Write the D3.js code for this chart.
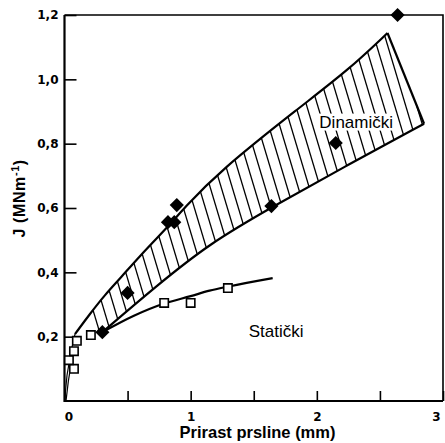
<!DOCTYPE html>
<html>
<head>
<meta charset="utf-8">
<script src="https://cdn.jsdelivr.net/npm/d3@7/dist/d3.min.js"></script>
<style>
  body { margin: 0; background: #fff; }
  svg { display: block; }
</style>
</head>
<body>
<div id="chart"></div>
<script>
// dynamic test points (filled diamonds)
const dynamicX = [0.30, 0.50, 0.82, 0.87, 0.89, 1.64, 2.15, 2.64];
const dynamicY = [0.214, 0.336, 0.556, 0.556, 0.609, 0.606, 0.802, 1.20];

// static test points (open squares)
const staticX = [0.075, 0.035, 0.075, 0.098, 0.209, 0.79, 1.00, 1.295];
const staticY = [0.100, 0.127, 0.155, 0.187, 0.205, 0.305, 0.305, 0.351];

// fitted static curve
const staticCurveX = [0.30, 0.55, 0.79, 1.00, 1.15, 1.30, 1.65];
const staticCurveY = [0.214, 0.265, 0.303, 0.326, 0.343, 0.356, 0.382];

// dynamic scatter band, upper and lower edge
const bandUpperX = [0.083, 0.20, 0.32, 0.45, 0.59, 0.81, 0.95, 1.22, 1.87, 2.25, 2.56];
const bandUpperY = [0.208, 0.270, 0.330, 0.385, 0.448, 0.538, 0.600, 0.712, 0.915, 1.029, 1.144];
const bandLowerX = [0.30, 0.72, 1.15, 1.65, 2.25, 2.85];
const bandLowerY = [0.214, 0.355, 0.490, 0.604, 0.735, 0.862];

// thin strokes of the band near the origin
const tailAX = [0.0, 0.02, 0.05, 0.083];
const tailAY = [0.0, 0.08, 0.15, 0.208];
const tailBX = [0.012, 0.03, 0.05];
const tailBY = [0.0, 0.06, 0.11];

// axes
const xTicks = [0, 0.5, 1, 1.5, 2, 2.5, 3];
const xTickLabels = ['0', '', '1', '', '2', '', '3'];
const yTicks = [0.2, 0.4, 0.6, 0.8, 1.0, 1.2];
const yTickLabels = ['0,2', '0,4', '0,6', '0,8', '1,0', '1,2'];

const w = 445;
const h = 443;
const margin = { top: 15, right: 2, bottom: 42, left: 64.5 };

const svg = d3.select('#chart')
    .append('svg')
    .attr('width', w)
    .attr('height', h);

const x = d3.scaleLinear().domain([0, 3]).range([margin.left, w - margin.right]);
const y = d3.scaleLinear().domain([0, 1.2]).range([h - margin.bottom, margin.top]);

const tickFont = '"DejaVu Sans", sans-serif';
const textFont = '"Liberation Sans", Arial, sans-serif';

// y axis, ticks pointing inwards
const yAxisG = svg.append('g')
    .attr('transform', `translate(${x(0)},0)`)
    .call(d3.axisLeft(y)
        .tickValues(yTicks)
        .tickSize(-12)
        .tickPadding(6)
        .tickFormat((d, i) => yTickLabels[i]));
yAxisG.select('.domain').remove();
yAxisG.selectAll('line').attr('stroke', '#000').attr('stroke-width', 1.6);
yAxisG.selectAll('text')
    .attr('fill', '#000')
    .style('font-family', tickFont)
    .style('font-weight', 'bold')
    .style('font-size', '12px');

// x axis
const xAxisG = svg.append('g')
    .attr('transform', `translate(0,${y(0)})`)
    .call(d3.axisBottom(x)
        .tickValues(xTicks)
        .tickSize(-10)
        .tickPadding(11)
        .tickFormat((d, i) => xTickLabels[i]));
xAxisG.select('.domain').remove();
xAxisG.selectAll('line').attr('stroke', '#000').attr('stroke-width', 1.6);
xAxisG.selectAll('text')
    .attr('fill', '#000')
    .attr('dx', (d, i) => i === 0 ? 4 : (i === xTicks.length - 1 ? -7 : 0))
    .style('font-family', tickFont)
    .style('font-weight', 'bold')
    .style('font-size', '12px');

// frame
svg.append('path')
    .attr('d', `M${x(0)},${y(1.2)}V${y(0)}H${x(3)}`)
    .attr('fill', 'none').attr('stroke', '#000').attr('stroke-width', 2.2);
svg.append('path')
    .attr('d', `M${x(0)},${y(1.2)}H${x(3)}V${y(0)}`)
    .attr('fill', 'none').attr('stroke', '#000').attr('stroke-width', 1.6);

// band
const smooth = d3.line().x(d => x(d[0])).y(d => y(d[1])).curve(d3.curveBasis);
const upper = bandUpperX.map((v, i) => [v, bandUpperY[i]]);
const lower = bandLowerX.map((v, i) => [v, bandLowerY[i]]);
const bandPath = smooth(upper) + smooth(lower.slice().reverse()).replace(/^M/, 'L') + 'Z';

svg.append('clipPath').attr('id', 'bandClip')
    .append('path').attr('d', bandPath);

// hatching, slightly tilted lines clipped to the band
const hatchStep = 11;
const tilt = 0.3;
const hatch = d3.range(x(0) - 60, x(3) + 20, hatchStep);
svg.append('g')
    .attr('clip-path', 'url(#bandClip)')
    .selectAll('line')
    .data(hatch)
    .enter()
    .append('line')
    .attr('x1', d => d)
    .attr('y1', y(1.2))
    .attr('x2', d => d + tilt * (y(0) - y(1.2)))
    .attr('y2', y(0))
    .attr('stroke', '#000')
    .attr('stroke-width', 1.3);

const edgeStyle = sel => sel.attr('fill', 'none').attr('stroke', '#000').attr('stroke-width', 2.2);
svg.append('path').attr('d', smooth(upper)).call(edgeStyle);
svg.append('path').attr('d', smooth(lower)).call(edgeStyle);
const upEnd = upper[upper.length - 1];
const lowEnd = lower[lower.length - 1];
svg.append('path')
    .attr('d', d3.line().x(d => x(d[0])).y(d => y(d[1]))([upEnd, lowEnd]))
    .call(edgeStyle);

// strokes near the origin
const thin = d3.line().x(d => x(d[0])).y(d => y(d[1]));
[[tailAX, tailAY], [tailBX, tailBY]].forEach(([tx, ty]) => {
    svg.append('path')
        .attr('d', thin(tx.map((v, i) => [v, ty[i]])))
        .attr('fill', 'none').attr('stroke', '#000').attr('stroke-width', 1.2);
});

// static curve
svg.append('path')
    .attr('d', d3.line().x(d => x(d[0])).y(d => y(d[1])).curve(d3.curveMonotoneX)(
        staticCurveX.map((v, i) => [v, staticCurveY[i]])))
    .attr('fill', 'none').attr('stroke', '#000').attr('stroke-width', 2.2);

// open squares
svg.append('g').selectAll('path')
    .data(staticX.map((v, i) => [v, staticY[i]]))
    .enter()
    .append('path')
    .attr('d', d3.symbol(d3.symbolSquare, 70))
    .attr('transform', d => `translate(${x(d[0])},${y(d[1])})`)
    .attr('fill', '#fff')
    .attr('stroke', '#000')
    .attr('stroke-width', 1.6);

// filled diamonds
svg.append('g').selectAll('path')
    .data(dynamicX.map((v, i) => [v, dynamicY[i]]))
    .enter()
    .append('path')
    .attr('d', d3.symbol(d3.symbolSquare, 100))
    .attr('transform', d => `translate(${x(d[0])},${y(d[1])}) rotate(45)`)
    .attr('fill', '#000');

// labels inside the plot, white patch behind the band label
const dinText = svg.append('text')
    .attr('x', x(2.02))
    .attr('y', y(0.85))
    .text('Dinamički')
    .style('font-family', textFont)
    .style('font-size', '17px');
const bb = dinText.node().getBBox();
svg.insert('rect', () => dinText.node())
    .attr('x', bb.x - 1).attr('y', bb.y + 1)
    .attr('width', bb.width + 2).attr('height', bb.height - 2)
    .attr('fill', '#fff');

svg.append('text')
    .attr('x', x(1.46))
    .attr('y', y(0.2))
    .text('Statički')
    .style('font-family', textFont)
    .style('font-size', '17px');

// axis titles
svg.append('text')
    .attr('x', x(1.53))
    .attr('y', 438)
    .attr('text-anchor', 'middle')
    .text('Prirast prsline (mm)')
    .style('font-family', textFont)
    .style('font-weight', 'bold')
    .style('font-size', '16.5px');

const yTitle = svg.append('text')
    .attr('transform', `translate(25,${y(0.63)}) rotate(-90)`)
    .attr('text-anchor', 'middle')
    .style('font-family', textFont)
    .style('font-weight', 'bold')
    .style('font-size', '16px')
    .style('letter-spacing', '0.6px');
yTitle.append('tspan').text('J (MNm');
yTitle.append('tspan').attr('dy', -6).style('font-size', '11px').text('-1');
yTitle.append('tspan').attr('dy', 6).text(')');
</script>
</body>
</html>
